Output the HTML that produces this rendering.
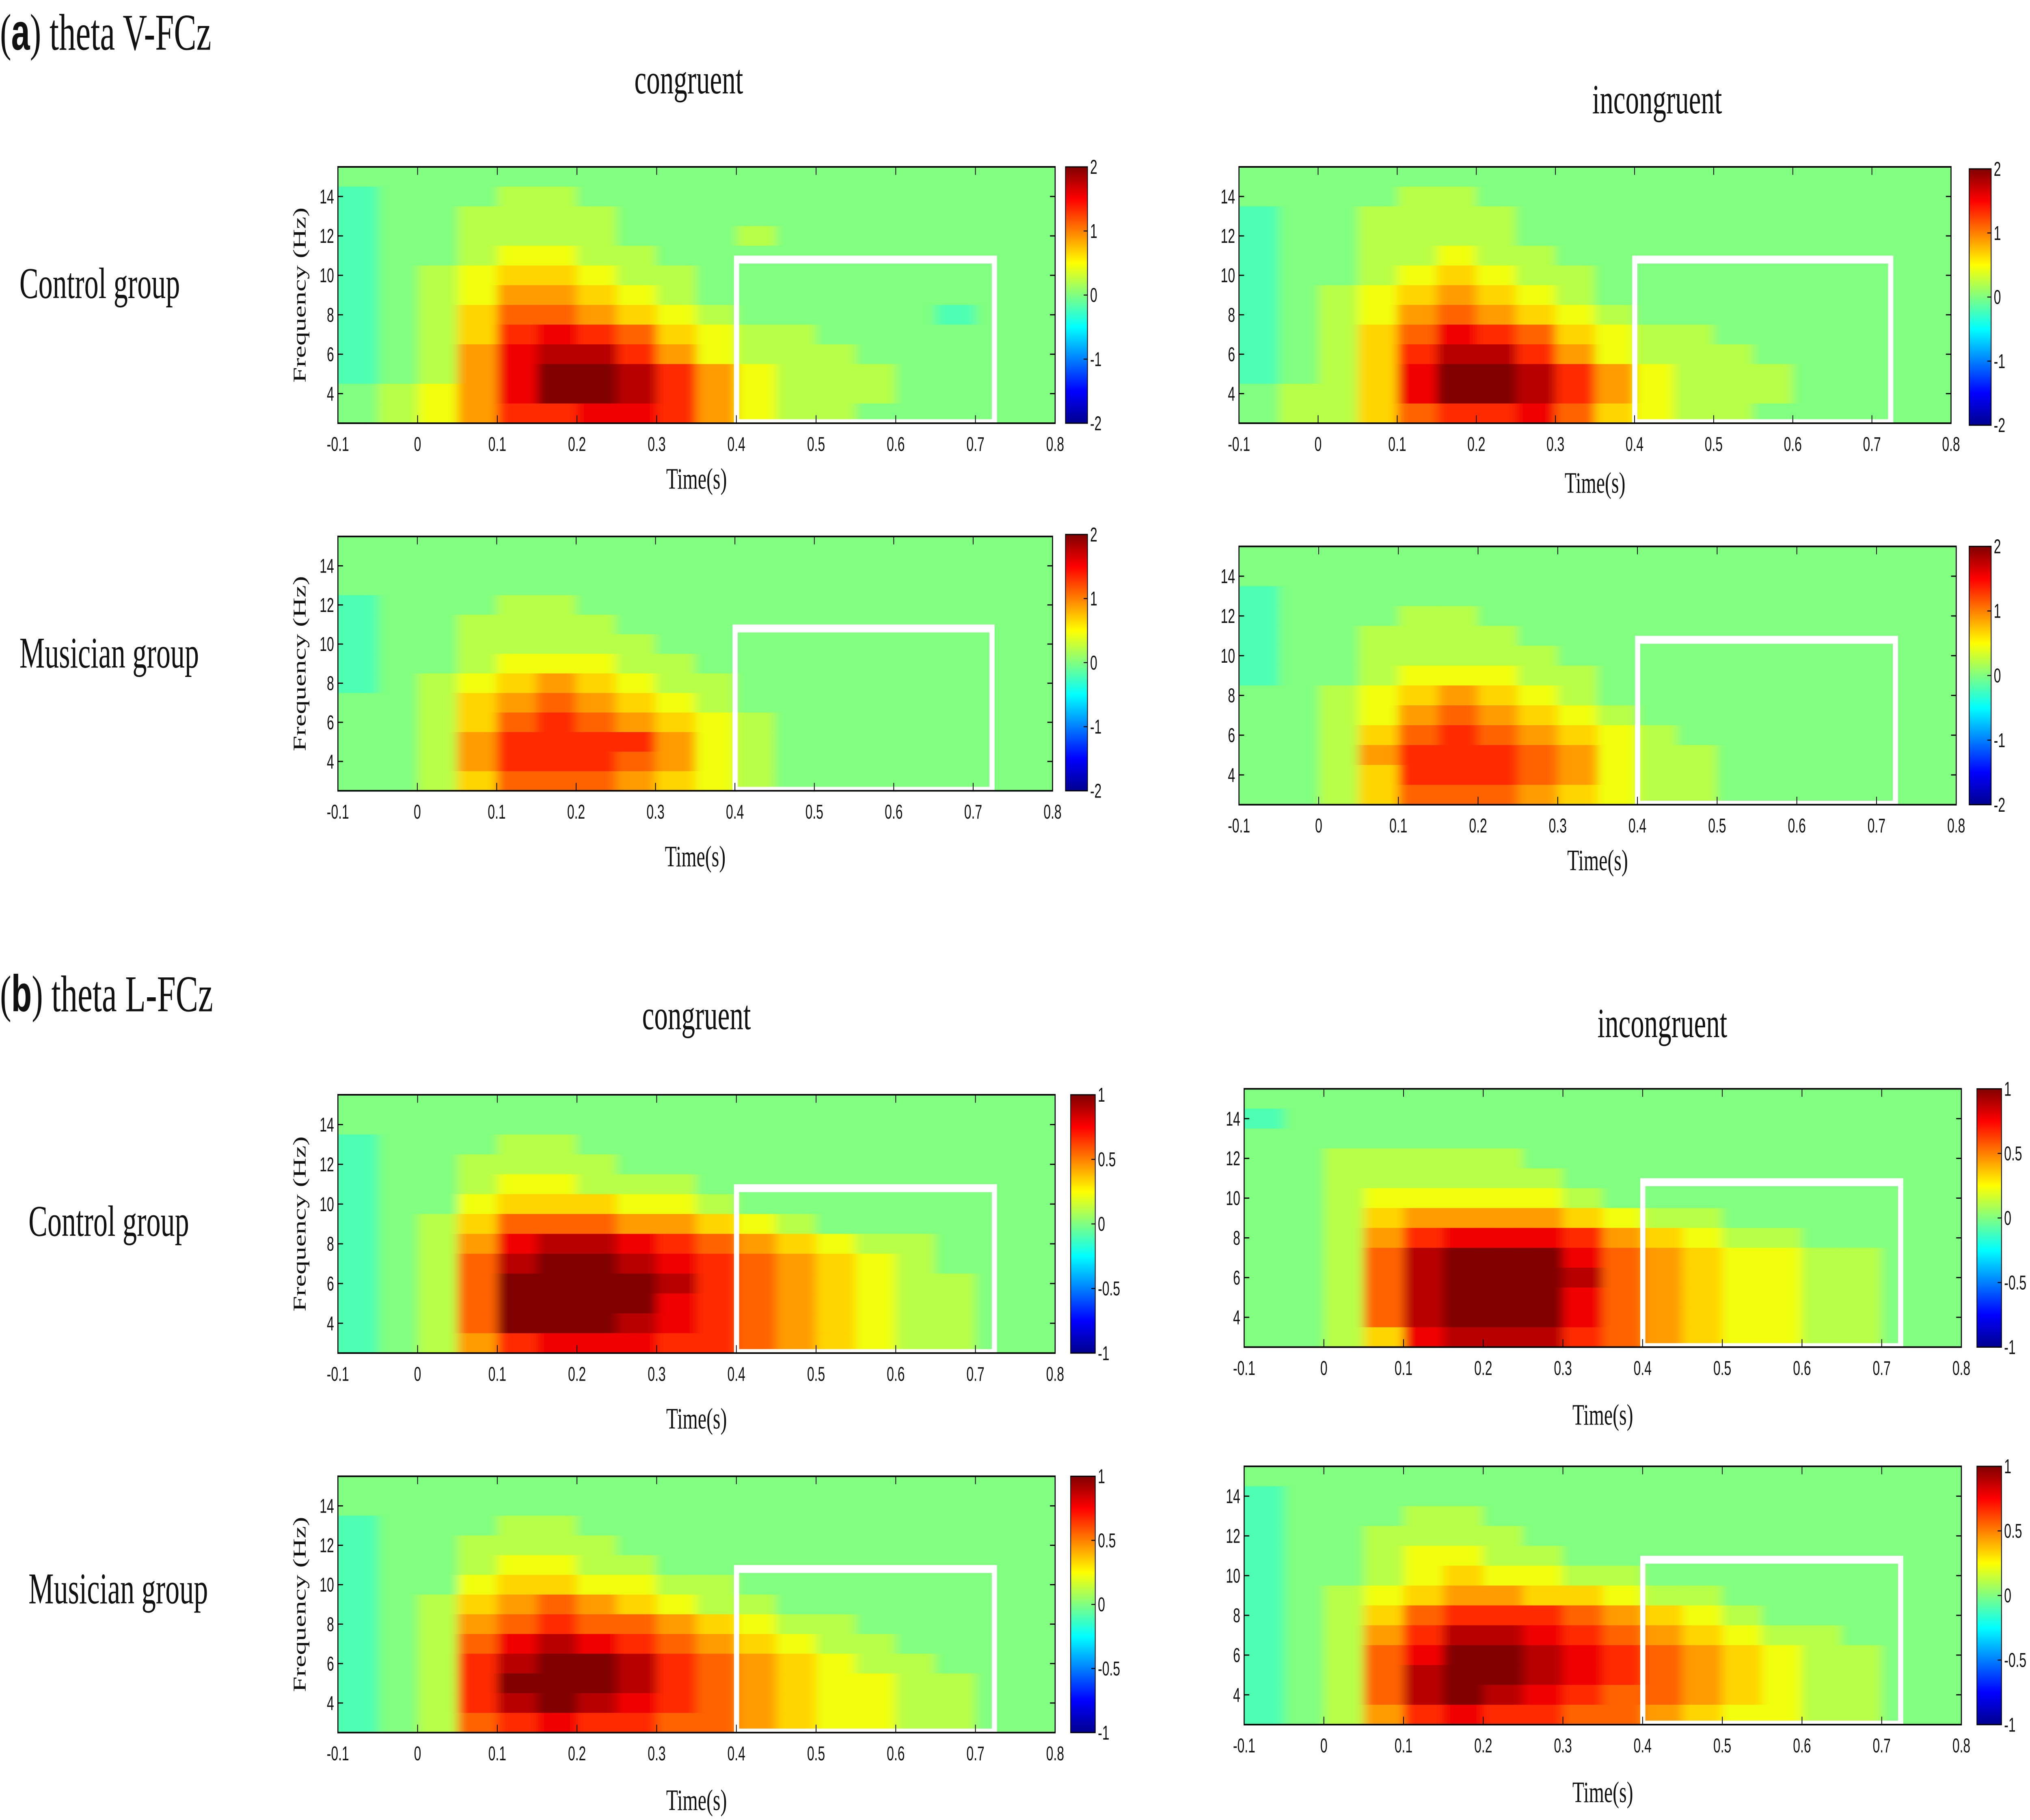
<!DOCTYPE html>
<html><head><meta charset="utf-8"><style>
html,body{margin:0;padding:0;background:#fff;overflow:hidden;}
svg{display:block;width:100vw;height:100vh;}
.ser{font-family:"Liberation Serif",serif;fill:#111;}
.tick{font-family:"Liberation Sans",sans-serif;font-size:10px;fill:#111;}
</style></head><body>
<svg id="fig" xmlns="http://www.w3.org/2000/svg" viewBox="0 0 1568 916" preserveAspectRatio="none">
<defs>
<linearGradient id="jet" x1="0" y1="1" x2="0" y2="0">
<stop offset="0" stop-color="#00008f"/><stop offset="0.125" stop-color="#0000ff"/><stop offset="0.375" stop-color="#00ffff"/><stop offset="0.5" stop-color="#80ff80"/><stop offset="0.625" stop-color="#ffff00"/><stop offset="0.875" stop-color="#ff0000"/><stop offset="1" stop-color="#800000"/>
</linearGradient>
<filter id="hblur" x="-5%" y="0" width="110%" height="100%"><feGaussianBlur stdDeviation="4 0"/></filter>
</defs>
<g id="world">
<text class="ser" x="0" y="25" font-size="26">(<tspan font-family="Liberation Sans" font-weight="bold">a</tspan>)  theta V-FCz</text>
<text class="ser" x="0" y="509" font-size="26">(<tspan font-family="Liberation Sans" font-weight="bold">b</tspan>)  theta L-FCz</text>
<text class="ser" x="532" y="47" font-size="21" text-anchor="middle">congruent</text>
<text class="ser" x="1280" y="57" font-size="21" text-anchor="middle">incongruent</text>
<text class="ser" x="538" y="518" font-size="21" text-anchor="middle">congruent</text>
<text class="ser" x="1284" y="522" font-size="21" text-anchor="middle">incongruent</text>
<text class="ser" x="15" y="150" font-size="22">Control group</text>
<text class="ser" x="15" y="336" font-size="22">Musician group</text>
<text class="ser" x="22" y="622" font-size="22">Control group</text>
<text class="ser" x="22" y="807" font-size="22">Musician group</text>
<g id="panels"></g>
</g>
</svg>
<script>
// time columns (left edges, s) and frequency rows (Hz, top to bottom)
const timeCols = [-0.1,-0.05,0,0.05,0.1,0.15,0.2,0.25,0.3,0.35,0.4,0.45,0.5,0.55,0.6,0.65,0.7,0.75];
const freqRows = [15,14,13,12,11,10,9,8,7,6,5,4,3];
const xTicks = [-0.1,0,0.1,0.2,0.3,0.4,0.5,0.6,0.7,0.8];
const yTicks = [4,6,8,10,12,14];
const cbTicksA = ["2","1","0","-1","-2"];
const cbTicksB = ["1","0.5","0","-0.5","-1"];
// levels: '-' = slight negative, 0..9 = 0..max
const dataA1 = [
"000000000000000000",
"-00011000000000000",
"-00111100000000000",
"-00111100010000000",
"-00122110000000000",
"-01233211000000000",
"-01244321000000000",
"-01355432100000-00",
"-01367653211000000",
"-01478864211100000",
"-01479986421110000",
"012479986421110000",
"012466776421100000"];
const dataA2 = [
"000000000000000000",
"000011000000000000",
"-00111100000000000",
"-00111100000000000",
"-00112110000000000",
"-00123211000000000",
"-01234321000000000",
"-01245432100000000",
"-01357653211000000",
"-01368864211100000",
"-01379986421110000",
"011379986421110000",
"011356675321100000"];
const dataA3 = [
"000000000000000000",
"000000000000000000",
"000000000000000000",
"-00011000000000000",
"-00111100000000000",
"-00111110000000000",
"-00122211000000000",
"-01234321100000000",
"001345432100000000",
"001356543210000000",
"001466664210000000",
"001466654210000000",
"001355543210000000"];
const dataA4 = [
"000000000000000000",
"000000000000000000",
"-00000000000000000",
"-00011000000000000",
"-00111100000000000",
"-00111110000000000",
"-00122211000000000",
"001234321000000000",
"001245432100000000",
"001356543210000000",
"001466654211000000",
"001366654211000000",
"001355543211000000"];
const dataB1 = [
"000000000000000000",
"000000000000000000",
"-00011000000000000",
"-00111100000000000",
"-00122111000000000",
"-00233322100000000",
"-01355544321000000",
"-01478876543211000",
"-01589987654321000",
"-01599998654321100",
"-01599997654321100",
"-01599987654321100",
"-01467776654321100"];
const dataB2 = [
"000000000000000000",
"-00000000000000000",
"000000000000000000",
"001111100000000000",
"001111110000000000",
"001222221000000000",
"001344443211000000",
"001467776432110000",
"001589997543221100",
"001589998543221100",
"001589997543221100",
"001589997543221100",
"001378886543221100"];
const dataB3 = [
"000000000000000000",
"000000000000000000",
"-00011000000000000",
"-00111100000000000",
"-00122110000000000",
"-00233221100000000",
"-01345432110000000",
"-01456554321100000",
"-01578765432110000",
"-01689986543211000",
"-01699986543221100",
"-01689876543221100",
"-01567665543221100"];
const dataB4 = [
"000000000000000000",
"-00000000000000000",
"-00011000000000000",
"-00111100000000000",
"-00122110000000000",
"-00123221100000000",
"-01234433211000000",
"-01356665432100000",
"-01468876543211000",
"-01579987654321100",
"-01589987654321100",
"-01589876554321100",
"-01467665543221100"];
const panels = [
 {id:"a-congruent-control",d:dataA1,x0:261,x1:815,y0:84,y1:213,cx:823,cw:17,cy0:84,cy1:213,tl:246,yt:true,cb:cbTicksA},
 {id:"a-incongruent-control",d:dataA2,x0:957,x1:1507,y0:84,y1:213,cx:1521,cw:17,cy0:85,cy1:214,tl:248,yt:false,cb:cbTicksA},
 {id:"a-congruent-musician",d:dataA3,x0:261,x1:813,y0:270,y1:398,cx:823,cw:17,cy0:269,cy1:398,tl:436,yt:true,cb:cbTicksA},
 {id:"a-incongruent-musician",d:dataA4,x0:957,x1:1511,y0:275,y1:405,cx:1521,cw:17,cy0:275,cy1:405,tl:438,yt:false,cb:cbTicksA},
 {id:"b-congruent-control",d:dataB1,x0:261,x1:815,y0:551,y1:681,cx:827,cw:19,cy0:551,cy1:681,tl:719,yt:true,cb:cbTicksB},
 {id:"b-incongruent-control",d:dataB2,x0:961,x1:1515,y0:548,y1:678,cx:1527,cw:19,cy0:548,cy1:678,tl:717,yt:false,cb:cbTicksB},
 {id:"b-congruent-musician",d:dataB3,x0:261,x1:815,y0:743,y1:872,cx:827,cw:19,cy0:743,cy1:872,tl:911,yt:true,cb:cbTicksB},
 {id:"b-incongruent-musician",d:dataB4,x0:961,x1:1515,y0:738,y1:868,cx:1527,cw:19,cy0:738,cy1:868,tl:907,yt:false,cb:cbTicksB}
];
const NS="http://www.w3.org/2000/svg";
function jet(t){
 const c=v=>Math.round(255*Math.max(0,Math.min(1,v)));
 return `rgb(${c(1.5-Math.abs(4*t-3))},${c(1.5-Math.abs(4*t-2))},${c(1.5-Math.abs(4*t-1))})`;
}
function lvl(ch){ return ch==='-'? 0.45 : 0.5+parseInt(ch,10)/18; }
function mk(tag,attrs,parent){const e=document.createElementNS(NS,tag);for(const k in attrs)e.setAttribute(k,attrs[k]);parent.appendChild(e);return e;}
const root=document.getElementById('panels');
panels.forEach((p,pi)=>{
 const g=mk('g',{},root);
 
 
 const sx=t=>p.x0+(t+0.1)/0.9*(p.x1-p.x0);
 const sy=f=>p.y1-(f-2.5)/13*(p.y1-p.y0);
 const cid='clip'+pi;
 const cp=mk('clipPath',{id:cid},g); mk('rect',{x:p.x0,y:p.y0,width:p.x1-p.x0,height:p.y1-p.y0},cp);
 const hm=mk('g',{'clip-path':`url(#${cid})`},g);
 const inner=mk('g',{filter:'url(#hblur)'},hm);
 mk('rect',{x:p.x0-10,y:p.y0,width:p.x1-p.x0+20,height:p.y1-p.y0,fill:jet(0.5)},inner);
 freqRows.forEach((f,ri)=>{
  const row=p.d[ri];
  timeCols.forEach((t,ci)=>{
   const ch=row[ci]||'0';
   let xa=sx(t), xb=sx(t+0.05);
   if(ci===0) xa-=10; if(ci===timeCols.length-1) xb+=10;
   const r=mk('rect',{x:xa,y:sy(f+0.5),width:xb-xa+0.6,height:sy(f-0.5)-sy(f+0.5)+0.4,fill:jet(lvl(ch))},inner);
   
   
  });
 });
 const bw=4;
 const box=mk('rect',{x:sx(0.397)+bw/2,y:sy(11)+bw/2,width:sx(0.727)-sx(0.397)-bw,height:p.y1-sy(11)-bw/2,fill:'none',stroke:'#fff','stroke-width':bw},g);
 
 
 const ax=mk('rect',{x:p.x0,y:p.y0,width:p.x1-p.x0,height:p.y1-p.y0,fill:'none',stroke:'#000','stroke-width':0.8},g);
 
 
 xTicks.forEach(t=>{
  const x=sx(t);
  mk('line',{x1:x,x2:x,y1:p.y1,y2:p.y1-4,stroke:'#000','stroke-width':0.6},g);
  mk('line',{x1:x,x2:x,y1:p.y0,y2:p.y0+4,stroke:'#000','stroke-width':0.6},g);
  const tx=mk('text',{x:x,y:p.y1+14,'text-anchor':'middle',class:'tick'},g);
  tx.textContent=String(t);
  
  
 });
 yTicks.forEach(f=>{
  const y=sy(f);
  mk('line',{x1:p.x0,x2:p.x0+4,y1:y,y2:y,stroke:'#000','stroke-width':0.6},g);
  mk('line',{x1:p.x1,x2:p.x1-4,y1:y,y2:y,stroke:'#000','stroke-width':0.6},g);
  const tx=mk('text',{x:p.x0-3,y:y+3.5,'text-anchor':'end',class:'tick'},g);
  tx.textContent=String(f);
  
  
 });
 const xl=mk('text',{x:(p.x0+p.x1)/2,y:p.tl,'text-anchor':'middle',class:'ser','font-size':15},g);
 xl.textContent='Time(s)';
 
 
 if(p.yt){
  const cy=(p.y0+p.y1)/2;
  const yl=mk('text',{x:236,y:cy,'text-anchor':'middle',class:'ser','font-size':14,transform:`rotate(-90 236 ${cy})`},g);
  yl.textContent='Frequency (Hz)';
  
  
 }
 const cb=mk('rect',{x:p.cx,y:p.cy0,width:p.cw,height:p.cy1-p.cy0,fill:'url(#jet)',stroke:'#000','stroke-width':0.6},g);
 
 
 p.cb.forEach((lab,i)=>{
  const y=p.cy0+i*(p.cy1-p.cy0)/(p.cb.length-1);
  mk('line',{x1:p.cx+p.cw-3,x2:p.cx+p.cw,y1:y,y2:y,stroke:'#000','stroke-width':0.5},g);
  const tx=mk('text',{x:p.cx+p.cw+2,y:y+3.5,class:'tick'},g);
  tx.textContent=lab;
  
  
 });
});
</script>
</body></html>
